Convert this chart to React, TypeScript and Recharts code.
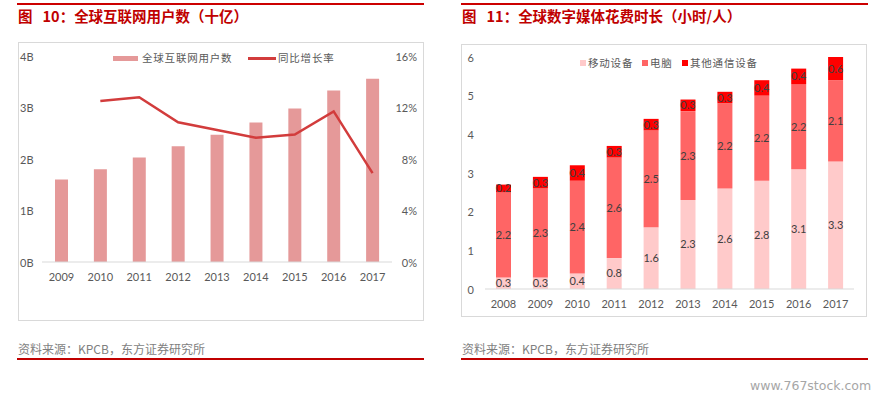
import { Bar, ComposedChart, LabelList, Line, XAxis, YAxis } from 'recharts';

// 图10 全球互联网用户数
const userYears = ['2009', '2010', '2011', '2012', '2013', '2014', '2015', '2016', '2017'];
const internetUsers = [1.6, 1.8, 2.03, 2.25, 2.47, 2.71, 2.98, 3.33, 3.56];
const userGrowth = [null, 12.5, 12.8, 10.85, 10.25, 9.65, 9.9, 11.7, 6.9];
const userTicks = [0, 1, 2, 3, 4];
const growthTicks = [0, 4, 8, 12, 16];

// 图11 全球数字媒体花费时长
const mediaYears = ['2008', '2009', '2010', '2011', '2012', '2013', '2014', '2015', '2016', '2017'];
const mobileHours = [0.3, 0.3, 0.4, 0.8, 1.6, 2.3, 2.6, 2.8, 3.1, 3.3];
const desktopHours = [2.2, 2.3, 2.4, 2.6, 2.5, 2.3, 2.2, 2.2, 2.2, 2.1];
const otherHours = [0.2, 0.3, 0.4, 0.3, 0.3, 0.3, 0.3, 0.4, 0.4, 0.6];
const hourTicks = [0, 1, 2, 3, 4, 5, 6];

const userSeries = ['全球互联网用户数', '同比增长率'];
const mediaSeries = ['移动设备', '电脑', '其他通信设备'];

const BAR_PINK = '#e59999';
const LINE_RED = '#d23c3c';
const MEDIA_COLORS = ['#ffcaca', '#ff6565', '#ff0000'];
const AXIS_TEXT = '#595959';
const TICK_FONT = 'Lato, "Liberation Sans", sans-serif';
const CJK = '"Noto Sans CJK SC", sans-serif';

const userData = userYears.map((year, i) => ({
  year,
  users: internetUsers[i],
  growth: userGrowth[i],
}));

const mediaData = mediaYears.map((year, i) => ({
  year,
  mobile: mobileHours[i],
  desktop: desktopHours[i],
  other: otherHours[i],
}));

function XTick(props: any) {
  const { x, y, payload } = props;
  return (
    <text x={x} y={y + 14.5} textAnchor="middle" dominantBaseline="central" fill={AXIS_TEXT} fontSize={11} fontFamily={TICK_FONT}>
      {payload.value}
    </text>
  );
}

function UserLeftTick(props: any) {
  const { x, y, payload } = props;
  return (
    <text x={x - 22} y={y} textAnchor="start" dominantBaseline="central" fill={AXIS_TEXT} fontSize={11} fontFamily={TICK_FONT}>
      {`${payload.value}B`}
    </text>
  );
}

function GrowthTick(props: any) {
  const { x, y, payload } = props;
  return (
    <text x={x + 25} y={y} textAnchor="end" dominantBaseline="central" fill={AXIS_TEXT} fontSize={11} fontFamily={TICK_FONT}>
      {`${payload.value}%`}
    </text>
  );
}

function HourTick(props: any) {
  const { x, y, payload } = props;
  return (
    <text x={x - 11} y={y} textAnchor="end" dominantBaseline="central" fill={AXIS_TEXT} fontSize={11} fontFamily={TICK_FONT}>
      {payload.value}
    </text>
  );
}

const fmt1 = (v: any) => Number(v).toFixed(1);

function Title({ left, num, text }: { left: number; num: string; text: string }) {
  return (
    <>
      <div style={{ position: 'absolute', left: left - 1, top: 3, width: 407, height: 2, background: '#cc0000' }} />
      <div
        style={{
          position: 'absolute',
          left,
          top: 6,
          fontFamily: CJK,
          fontWeight: 700,
          fontSize: 14.5,
          lineHeight: '20px',
          color: '#c00000',
          whiteSpace: 'nowrap',
        }}
      >
        <span style={{ marginRight: 10 }}>图</span>
        {num}：{text}
      </div>
    </>
  );
}

function Footer({ left }: { left: number }) {
  return (
    <>
      <div
        style={{
          position: 'absolute',
          left,
          top: 341,
          fontFamily: CJK,
          fontSize: 12,
          lineHeight: '16px',
          color: '#7f7f7f',
          whiteSpace: 'nowrap',
        }}
      >
        资料来源：KPCB，东方证券研究所
      </div>
      <div style={{ position: 'absolute', left: left - 1, top: 358, width: 407, height: 2, background: '#c00000' }} />
    </>
  );
}

const legendText = {
  fontFamily: CJK,
  fontSize: 10.5,
  letterSpacing: 0.8,
  color: AXIS_TEXT,
  lineHeight: '14px',
  whiteSpace: 'nowrap' as const,
};

function UsersChart() {
  return (
    <div
      style={{
        position: 'absolute',
        left: 18,
        top: 42,
        width: 406,
        height: 279,
        border: '1px solid #d9d9d9',
        boxSizing: 'border-box',
        background: '#fff',
      }}
    >
      <div style={{ position: 'absolute', left: -1, top: -1 }}>
        <ComposedChart width={406} height={279} data={userData} margin={{ top: 14, right: 0, bottom: 29, left: 0 }}>
          <XAxis
            dataKey="year"
            height={30}
            tickSize={0}
            tickMargin={0}
            tickLine={false}
            axisLine={{ stroke: '#d9d9d9' }}
            tick={<XTick />}
            interval={0}
          />
          <YAxis
            yAxisId="left"
            width={24}
            domain={[0, 4]}
            ticks={userTicks}
            tickSize={0}
            tickMargin={0}
            axisLine={false}
            tickLine={false}
            tick={<UserLeftTick />}
          />
          <YAxis
            yAxisId="right"
            orientation="right"
            width={32}
            domain={[0, 16]}
            ticks={growthTicks}
            tickSize={0}
            tickMargin={0}
            axisLine={false}
            tickLine={false}
            tick={<GrowthTick />}
          />
          <Bar yAxisId="left" dataKey="users" name={userSeries[0]} fill={BAR_PINK} barSize={13} isAnimationActive={false} />
          <Line
            yAxisId="right"
            dataKey="growth"
            name={userSeries[1]}
            stroke={LINE_RED}
            strokeWidth={2.5}
            dot={false}
            activeDot={false}
            type="linear"
            isAnimationActive={false}
          />
        </ComposedChart>
      </div>
      {/* legend */}
      <div style={{ position: 'absolute', left: 94, top: 13, width: 25, height: 5, background: BAR_PINK }} />
      <div style={{ position: 'absolute', left: 123, top: 8, ...legendText }}>{userSeries[0]}</div>
      <div style={{ position: 'absolute', left: 229, top: 14, width: 28, height: 3, background: LINE_RED }} />
      <div style={{ position: 'absolute', left: 259, top: 8, ...legendText }}>{userSeries[1]}</div>
    </div>
  );
}

function MediaChart() {
  const keys = ['mobile', 'desktop', 'other'];
  return (
    <div
      style={{
        position: 'absolute',
        left: 461,
        top: 44,
        width: 406,
        height: 273,
        border: '1px solid #d9d9d9',
        boxSizing: 'border-box',
        background: '#fff',
      }}
    >
      <div style={{ position: 'absolute', left: -1, top: -1 }}>
        <ComposedChart width={406} height={273} data={mediaData} margin={{ top: 13, right: 13, bottom: 0, left: 0 }}>
          <XAxis
            dataKey="year"
            height={28}
            tickSize={0}
            tickMargin={0}
            tickLine={false}
            axisLine={{ stroke: '#d9d9d9' }}
            tick={<XTick />}
            interval={0}
          />
          <YAxis
            width={24}
            domain={[0, 6]}
            ticks={hourTicks}
            tickSize={0}
            tickMargin={0}
            axisLine={false}
            tickLine={false}
            tick={<HourTick />}
          />
          {keys.map((k, i) => (
            <Bar key={k} dataKey={k} stackId="hours" name={mediaSeries[i]} fill={MEDIA_COLORS[i]} barSize={15} isAnimationActive={false}>
              <LabelList dataKey={k} position="center" formatter={fmt1} fill="#404040" fontSize={11} fontFamily={TICK_FONT} />
            </Bar>
          ))}
        </ComposedChart>
      </div>
      {/* legend */}
      {mediaSeries.map((name, i) => {
        const swatchX = [118, 180, 220][i];
        return (
          <div key={name}>
            <div style={{ position: 'absolute', left: swatchX, top: 15, width: 6, height: 6, background: MEDIA_COLORS[i] }} />
            <div style={{ position: 'absolute', left: swatchX + 8, top: 11, ...legendText }}>{name}</div>
          </div>
        );
      })}
    </div>
  );
}

export default function App() {
  return (
    <div style={{ position: 'absolute', left: 0, top: 0, width: 879, height: 399, background: '#fff', overflow: 'hidden' }}>
      <Title left={18} num="10" text="全球互联网用户数（十亿）" />
      <Title left={462} num="11" text="全球数字媒体花费时长（小时/人）" />
      <UsersChart />
      <MediaChart />
      <Footer left={18} />
      <Footer left={462} />
      <div
        style={{
          position: 'absolute',
          left: 750,
          top: 378,
          fontFamily: '"DejaVu Sans", sans-serif',
          fontSize: 12.5,
          lineHeight: '16px',
          color: '#a6a6a6',
          whiteSpace: 'nowrap',
        }}
      >
        www.767stock.com
      </div>
    </div>
  );
}
